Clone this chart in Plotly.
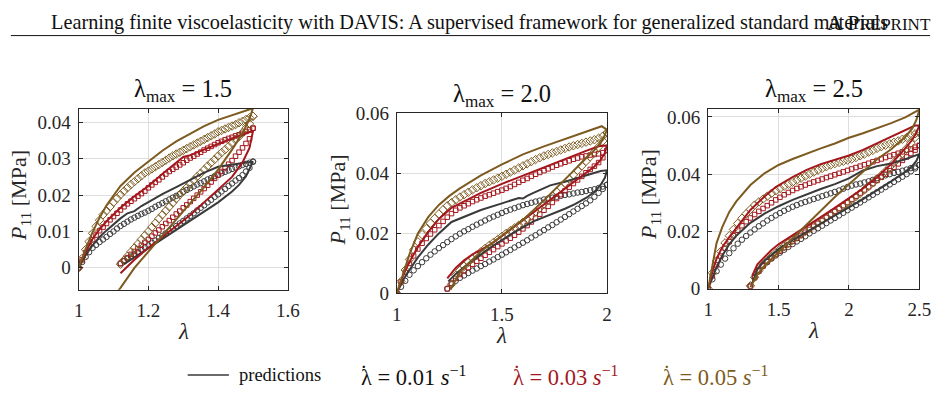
import plotly.graph_objects as go

# ---------------- data ----------------
# Panel 1 (lambda_max = 1.5) -- measured data (markers)
L1_UP = [1.00,1.01,1.02,1.03,1.04,1.05,1.06,1.07,1.08,1.09,1.10,1.11,1.12,1.13,1.14,1.15,1.16,1.17,1.18,1.19,
         1.20,1.21,1.22,1.23,1.24,1.25,1.26,1.27,1.28,1.29,1.30,1.31,1.32,1.33,1.34,1.35,1.36,1.37,1.38,1.39,
         1.40,1.41,1.42,1.43,1.44,1.45,1.46,1.47,1.48,1.49,1.50]
L1_DN = [1.50,1.49,1.48,1.47,1.46,1.45,1.44,1.43,1.42,1.41,1.40,1.39,1.38,1.37,1.36,1.35,1.34,1.33,1.32,1.31,
         1.30,1.29,1.28,1.27,1.26,1.25,1.24,1.23,1.22,1.21,1.20,1.19,1.18,1.17,1.16,1.15,1.14,1.13,1.12]
P1_R1_UP = [0,0.0016,0.0030,0.0043,0.0055,0.0063,0.0071,0.0078,0.0085,0.0093,0.0100,0.0108,0.0115,0.0121,0.0127,
            0.0133,0.0138,0.0143,0.0148,0.0152,0.0157,0.0162,0.0168,0.0173,0.0178,0.0183,0.0188,0.0193,0.0198,
            0.0203,0.0209,0.0214,0.0219,0.0224,0.0229,0.0233,0.0238,0.0243,0.0247,0.0252,0.0256,0.0260,0.0264,
            0.0268,0.0272,0.0276,0.0279,0.0283,0.0286,0.0289,0.0292]
P1_R1_DN = [0.0292,0.0275,0.0265,0.0255,0.0247,0.0240,0.0232,0.0225,0.0217,0.0210,0.0202,0.0195,0.0187,0.0180,
            0.0172,0.0165,0.0158,0.0150,0.0143,0.0136,0.0129,0.0122,0.0115,0.0108,0.0101,0.0095,0.0088,0.0082,
            0.0075,0.0069,0.0062,0.0056,0.0050,0.0043,0.0037,0.0031,0.0025,0.0018,0.0012]
P1_R2_UP = [0,0.0022,0.0042,0.0060,0.0077,0.0090,0.0102,0.0112,0.0122,0.0132,0.0141,0.0150,0.0159,0.0168,0.0176,
            0.0183,0.0190,0.0197,0.0204,0.0211,0.0220,0.0228,0.0235,0.0242,0.0250,0.0258,0.0265,0.0271,0.0277,
            0.0283,0.0289,0.0296,0.0302,0.0307,0.0313,0.0318,0.0324,0.0329,0.0334,0.0339,0.0344,0.0348,0.0352,
            0.0356,0.0359,0.0363,0.0366,0.0370,0.0375,0.0380,0.0384]
P1_R2_DN = [0.0384,0.0355,0.0342,0.0330,0.0318,0.0307,0.0295,0.0285,0.0275,0.0265,0.0255,0.0246,0.0236,0.0227,
            0.0218,0.0209,0.0200,0.0191,0.0182,0.0173,0.0165,0.0156,0.0148,0.0139,0.0130,0.0122,0.0113,0.0104,
            0.0096,0.0087,0.0078,0.0070,0.0062,0.0053,0.0045,0.0037,0.0028,0.0020,0.0012]
P1_R3_UP = [0,0.0026,0.0050,0.0072,0.0095,0.0114,0.0131,0.0146,0.0157,0.0168,0.0180,0.0191,0.0201,0.0211,0.0220,
            0.0229,0.0237,0.0245,0.0253,0.0261,0.0266,0.0272,0.0278,0.0284,0.0290,0.0296,0.0302,0.0308,0.0313,
            0.0318,0.0323,0.0328,0.0333,0.0338,0.0343,0.0348,0.0353,0.0358,0.0363,0.0368,0.0374,0.0378,0.0382,
            0.0386,0.0390,0.0394,0.0399,0.0403,0.0408,0.0413,0.0417]
P1_R3_DN = [0.0417,0.0396,0.0384,0.0372,0.0361,0.0352,0.0343,0.0334,0.0325,0.0317,0.0308,0.0298,0.0289,0.0280,
            0.0270,0.0260,0.0251,0.0241,0.0231,0.0221,0.0211,0.0201,0.0190,0.0179,0.0168,0.0157,0.0146,0.0135,
            0.0123,0.0112,0.0100,0.0089,0.0078,0.0066,0.0055,0.0044,0.0032,0.0021,0.0010]

# Panel 1 -- model predictions (lines)
Q1_R1_UP_L = [1.0,1.02,1.04,1.06,1.08,1.10,1.12,1.14,1.16,1.18,1.20,1.24,1.28,1.32,1.36,1.40,1.44,1.48,1.50]
Q1_R1_UP_P = [0,0.0035,0.0062,0.0085,0.0103,0.0120,0.0136,0.0150,0.0156,0.0170,0.0181,0.0203,0.0222,0.0243,
              0.0262,0.0278,0.0285,0.0290,0.0292]
Q1_R1_DN_L = [1.50,1.49,1.48,1.46,1.44,1.40,1.36,1.32,1.28,1.24,1.20,1.16,1.13]
Q1_R1_DN_P = [0.0292,0.0270,0.0252,0.0228,0.0210,0.0180,0.0155,0.0130,0.0105,0.0080,0.0055,0.0030,0.0010]
Q1_R2_UP_L = [1.0,1.02,1.04,1.06,1.08,1.10,1.12,1.16,1.20,1.24,1.28,1.30,1.32,1.36,1.40,1.44,1.48,1.50]
Q1_R2_UP_P = [0,0.0045,0.0080,0.0106,0.0128,0.0147,0.0165,0.0197,0.0225,0.0258,0.0290,0.0305,0.0310,0.0326,
              0.0342,0.0356,0.0370,0.0376]
Q1_R2_DN_L = [1.50,1.49,1.47,1.44,1.40,1.36,1.32,1.28,1.24,1.20,1.16,1.12]
Q1_R2_DN_P = [0.0376,0.0330,0.0290,0.0250,0.0215,0.0178,0.0145,0.0115,0.0085,0.0055,0.0022,-0.0015]
Q1_R3_UP_L = [1.0,1.02,1.04,1.06,1.08,1.10,1.12,1.16,1.20,1.24,1.28,1.32,1.36,1.40,1.44,1.48,1.50]
Q1_R3_UP_P = [0,0.0052,0.0098,0.0138,0.0172,0.0200,0.0225,0.0262,0.0292,0.0322,0.0348,0.0370,0.0390,0.0407,
              0.0420,0.0432,0.0439]
Q1_R3_DN_L = [1.50,1.49,1.47,1.44,1.40,1.36,1.32,1.28,1.24,1.20,1.16,1.12,1.10]
Q1_R3_DN_P = [0.0439,0.0410,0.0370,0.0325,0.0270,0.0222,0.0177,0.0133,0.0090,0.0045,0.0000,-0.0055,-0.0080]

# Panel 2 (lambda_max = 2.0) -- measured data
L2_UP = [1.00,1.02,1.04,1.06,1.08,1.10,1.12,1.14,1.16,1.18,1.20,1.22,1.24,1.26,1.28,1.30,1.32,1.34,1.36,1.38,
         1.40,1.42,1.44,1.46,1.48,1.50,1.52,1.54,1.56,1.58,1.60,1.62,1.64,1.66,1.68,1.70,1.72,1.74,1.76,1.78,
         1.80,1.82,1.84,1.86,1.88,1.90,1.92,1.94,1.96,1.98,2.00]
L2_DN = [2.00,1.98,1.96,1.94,1.92,1.90,1.88,1.86,1.84,1.82,1.80,1.78,1.76,1.74,1.72,1.70,1.68,1.66,1.64,1.62,
         1.60,1.58,1.56,1.54,1.52,1.50,1.48,1.46,1.44,1.42,1.40,1.38,1.36,1.34,1.32,1.30,1.28,1.26,1.24]
P2_R1_UP = [0,0.0022,0.0042,0.0062,0.0077,0.0091,0.0104,0.0117,0.0129,0.0140,0.0151,0.0161,0.0171,0.0181,0.0190,
            0.0199,0.0207,0.0214,0.0222,0.0229,0.0236,0.0243,0.0250,0.0256,0.0262,0.0268,0.0274,0.0279,0.0284,
            0.0289,0.0294,0.0298,0.0302,0.0306,0.0309,0.0313,0.0316,0.0319,0.0322,0.0325,0.0328,0.0330,0.0333,
            0.0336,0.0338,0.0341,0.0344,0.0347,0.0351,0.0356,0.0362]
P2_R1_DN = [0.0362,0.0348,0.0335,0.0322,0.0310,0.0300,0.0291,0.0282,0.0273,0.0264,0.0255,0.0246,0.0237,0.0228,
            0.0220,0.0211,0.0203,0.0194,0.0186,0.0177,0.0169,0.0161,0.0153,0.0145,0.0137,0.0129,0.0121,0.0113,
            0.0106,0.0098,0.0091,0.0083,0.0076,0.0068,0.0060,0.0052,0.0042,0.0030,0.0016]
P2_R2_UP = [0,0.0038,0.0070,0.0100,0.0125,0.0148,0.0167,0.0183,0.0198,0.0212,0.0226,0.0240,0.0254,0.0266,0.0277,
            0.0285,0.0292,0.0299,0.0306,0.0312,0.0318,0.0324,0.0329,0.0334,0.0339,0.0344,0.0350,0.0356,0.0363,
            0.0370,0.0377,0.0383,0.0390,0.0397,0.0403,0.0409,0.0415,0.0421,0.0427,0.0432,0.0437,0.0442,0.0447,
            0.0451,0.0455,0.0458,0.0461,0.0463,0.0465,0.0469,0.0476]
P2_R2_DN = [0.0476,0.0452,0.0436,0.0424,0.0413,0.0402,0.0390,0.0378,0.0366,0.0354,0.0342,0.0329,0.0316,0.0303,
            0.0290,0.0277,0.0264,0.0251,0.0238,0.0226,0.0215,0.0204,0.0194,0.0184,0.0175,0.0165,0.0156,0.0146,
            0.0137,0.0127,0.0117,0.0107,0.0097,0.0086,0.0075,0.0063,0.0050,0.0034,0.0015]
P2_R3_UP = [0,0.0040,0.0078,0.0113,0.0145,0.0172,0.0196,0.0216,0.0234,0.0250,0.0265,0.0279,0.0292,0.0302,0.0312,
            0.0321,0.0329,0.0337,0.0345,0.0352,0.0359,0.0366,0.0372,0.0378,0.0384,0.0390,0.0397,0.0404,0.0411,
            0.0418,0.0425,0.0432,0.0439,0.0446,0.0452,0.0458,0.0463,0.0468,0.0473,0.0478,0.0483,0.0488,0.0492,
            0.0496,0.0500,0.0504,0.0508,0.0512,0.0517,0.0524,0.0535]
P2_R3_DN = [0.0535,0.0508,0.0488,0.0471,0.0455,0.0440,0.0425,0.0410,0.0395,0.0381,0.0367,0.0353,0.0339,0.0325,
            0.0311,0.0298,0.0285,0.0272,0.0259,0.0247,0.0237,0.0227,0.0218,0.0209,0.0200,0.0190,0.0180,0.0170,
            0.0160,0.0150,0.0139,0.0128,0.0116,0.0104,0.0091,0.0077,0.0060,0.0030]

# Panel 2 -- model predictions
Q2_R1_UP_L = [1.0,1.03,1.06,1.10,1.15,1.20,1.26,1.30,1.40,1.50,1.55,1.58,1.60,1.62,1.65,1.73,1.80,1.90,1.97,2.0]
Q2_R1_UP_P = [0,0.0045,0.0078,0.0120,0.0163,0.0200,0.0238,0.0250,0.0278,0.0300,0.0310,0.0318,0.0316,0.0325,
              0.0335,0.0360,0.0372,0.0392,0.0408,0.0410]
Q2_R1_DN_L = [2.0,1.99,1.97,1.94,1.90,1.85,1.80,1.73,1.65,1.55,1.45,1.35,1.28,1.245]
Q2_R1_DN_P = [0.0410,0.0385,0.0362,0.0338,0.0318,0.0298,0.0282,0.0262,0.0240,0.0200,0.0155,0.0105,0.0065,0.0040]
Q2_R2_UP_L = [1.0,1.03,1.06,1.10,1.15,1.20,1.26,1.30,1.40,1.50,1.60,1.70,1.80,1.90,1.96,2.0]
Q2_R2_UP_P = [0,0.0060,0.0105,0.0155,0.0205,0.0248,0.0285,0.0300,0.0335,0.0365,0.0393,0.0420,0.0448,0.0475,
              0.0490,0.0493]
Q2_R2_DN_L = [2.0,1.99,1.97,1.94,1.90,1.85,1.80,1.70,1.60,1.50,1.45,1.40,1.36,1.32,1.28,1.24]
Q2_R2_DN_P = [0.0493,0.0468,0.0445,0.0423,0.0402,0.0376,0.0350,0.0298,0.0245,0.0192,0.0165,0.0145,0.0130,
              0.0110,0.0085,0.0050]
Q2_R3_UP_L = [1.0,1.03,1.06,1.10,1.15,1.20,1.25,1.30,1.40,1.50,1.60,1.70,1.80,1.90,1.975,2.0]
Q2_R3_UP_P = [0,0.0065,0.0130,0.0200,0.0255,0.0295,0.0325,0.0350,0.0393,0.0430,0.0463,0.0490,0.0515,0.0538,
              0.0557,0.0545]
Q2_R3_DN_L = [2.0,1.98,1.95,1.90,1.80,1.70,1.60,1.50,1.40,1.30,1.255]
Q2_R3_DN_P = [0.0545,0.0512,0.0485,0.0450,0.0380,0.0310,0.0245,0.0192,0.0140,0.0072,0.0012]

# Panel 3 (lambda_max = 2.5) -- measured data
L3_UP = [1.00,1.03,1.06,1.09,1.12,1.15,1.18,1.21,1.24,1.27,1.30,1.33,1.36,1.39,1.42,1.45,1.48,1.51,1.54,1.57,
         1.60,1.63,1.66,1.69,1.72,1.75,1.78,1.81,1.84,1.87,1.90,1.93,1.96,1.99,2.02,2.05,2.08,2.11,2.14,2.17,
         2.20,2.23,2.26,2.29,2.32,2.35,2.38,2.41,2.44,2.47,2.50]
L3_DN = [2.50,2.47,2.44,2.41,2.38,2.35,2.32,2.29,2.26,2.23,2.20,2.17,2.14,2.11,2.08,2.05,2.02,1.99,1.96,1.93,
         1.90,1.87,1.84,1.81,1.78,1.75,1.72,1.69,1.66,1.63,1.60,1.57,1.54,1.51,1.48,1.45,1.42,1.39,1.36,1.33,1.30]
P3_R1_UP = [0,0.0033,0.0061,0.0084,0.0105,0.0124,0.0141,0.0157,0.0171,0.0184,0.0196,0.0207,0.0218,0.0228,0.0238,
            0.0247,0.0256,0.0264,0.0272,0.0279,0.0286,0.0292,0.0298,0.0303,0.0308,0.0313,0.0318,0.0323,0.0328,
            0.0333,0.0338,0.0343,0.0349,0.0355,0.0360,0.0364,0.0367,0.0371,0.0375,0.0380,0.0386,0.0391,0.0396,
            0.0400,0.0404,0.0408,0.0412,0.0416,0.0421,0.0426,0.0432]
P3_R1_DN = [0.0432,0.0420,0.0410,0.0400,0.0391,0.0382,0.0373,0.0364,0.0355,0.0346,0.0337,0.0328,0.0319,0.0310,
            0.0301,0.0292,0.0283,0.0274,0.0265,0.0256,0.0247,0.0238,0.0229,0.0220,0.0211,0.0202,0.0193,0.0183,
            0.0174,0.0165,0.0156,0.0146,0.0136,0.0126,0.0116,0.0105,0.0093,0.0080,0.0063,0.0040,0.0010]
P3_R2_UP = [0,0.0045,0.0083,0.0114,0.0141,0.0164,0.0185,0.0204,0.0220,0.0234,0.0247,0.0259,0.0270,0.0280,0.0290,
            0.0300,0.0310,0.0319,0.0328,0.0336,0.0343,0.0350,0.0356,0.0362,0.0368,0.0373,0.0378,0.0383,0.0388,
            0.0393,0.0398,0.0403,0.0408,0.0413,0.0418,0.0423,0.0428,0.0433,0.0438,0.0443,0.0448,0.0453,0.0458,
            0.0463,0.0468,0.0473,0.0478,0.0483,0.0488,0.0494,0.0500]
P3_R2_DN = [0.0500,0.0484,0.0472,0.0460,0.0448,0.0436,0.0424,0.0412,0.0400,0.0389,0.0378,0.0367,0.0356,0.0345,
            0.0334,0.0323,0.0312,0.0301,0.0290,0.0280,0.0270,0.0259,0.0249,0.0238,0.0228,0.0218,0.0207,0.0197,
            0.0186,0.0176,0.0165,0.0154,0.0143,0.0131,0.0119,0.0107,0.0094,0.0079,0.0061,0.0038,0.0008]
P3_R3_UP = [0,0.0055,0.0097,0.0130,0.0160,0.0185,0.0207,0.0228,0.0246,0.0262,0.0277,0.0292,0.0303,0.0313,0.0323,
            0.0333,0.0342,0.0350,0.0358,0.0365,0.0372,0.0379,0.0386,0.0393,0.0400,0.0407,0.0414,0.0420,0.0426,
            0.0432,0.0437,0.0441,0.0445,0.0449,0.0453,0.0458,0.0464,0.0470,0.0477,0.0483,0.0490,0.0496,0.0501,
            0.0506,0.0511,0.0516,0.0522,0.0528,0.0535,0.0541,0.0548]
P3_R3_DN = [0.0548,0.0528,0.0508,0.0490,0.0472,0.0456,0.0440,0.0425,0.0410,0.0396,0.0383,0.0370,0.0357,0.0345,
            0.0333,0.0322,0.0311,0.0300,0.0290,0.0280,0.0270,0.0260,0.0250,0.0240,0.0230,0.0220,0.0210,0.0200,
            0.0190,0.0180,0.0170,0.0159,0.0148,0.0137,0.0125,0.0112,0.0098,0.0082,0.0063,0.0040,0.0010]

# Panel 3 -- model predictions
Q3_R1_UP_L = [1.0,1.03,1.06,1.10,1.15,1.20,1.30,1.40,1.50,1.60,1.70,1.80,1.90,2.00,2.10,2.20,2.30,2.40,2.50]
Q3_R1_UP_P = [0,0.0040,0.0075,0.0115,0.0155,0.0185,0.0230,0.0262,0.0288,0.0310,0.0330,0.0348,0.0365,0.0385,
              0.0413,0.0428,0.0437,0.0452,0.0470]
Q3_R1_DN_L = [2.5,2.48,2.45,2.4,2.3,2.2,2.1,2.0,1.9,1.8,1.7,1.6,1.5,1.4,1.35,1.31]
Q3_R1_DN_P = [0.0470,0.0447,0.0428,0.0408,0.0375,0.0343,0.0313,0.0284,0.0256,0.0228,0.0200,0.0170,0.0138,
              0.0098,0.0068,0.0015]
Q3_R2_UP_L = [1.0,1.03,1.06,1.10,1.15,1.20,1.30,1.40,1.48,1.60,1.70,1.80,1.90,2.00,2.10,2.20,2.30,2.40,2.47,2.50]
Q3_R2_UP_P = [0,0.0060,0.0105,0.0145,0.0180,0.0213,0.0275,0.0322,0.0355,0.0390,0.0415,0.0435,0.0450,0.0465,
              0.0485,0.0508,0.0530,0.0555,0.0570,0.0570]
Q3_R2_DN_L = [2.5,2.48,2.45,2.4,2.3,2.2,2.1,2.0,1.9,1.8,1.7,1.6,1.5,1.45,1.4,1.37,1.35,1.314]
Q3_R2_DN_P = [0.0570,0.0545,0.0520,0.0490,0.0435,0.0390,0.0350,0.0315,0.0282,0.0250,0.0218,0.0186,0.0155,
              0.0135,0.0108,0.0095,0.0085,0.0046]
Q3_R3_UP_L = [1.0,1.03,1.06,1.10,1.15,1.20,1.25,1.30,1.40,1.50,1.60,1.70,1.80,1.90,2.0,2.1,2.2,2.3,2.4,2.5]
Q3_R3_UP_P = [0,0.0085,0.0160,0.0215,0.0268,0.0305,0.0335,0.0362,0.0403,0.0432,0.0453,0.0472,0.0490,0.0507,
              0.0527,0.0543,0.0560,0.0578,0.0598,0.0625]
Q3_R3_DN_L = [2.5,2.48,2.45,2.4,2.3,2.2,2.1,2.0,1.9,1.8,1.7,1.6,1.5,1.4,1.35,1.3]
Q3_R3_DN_P = [0.0625,0.0590,0.0560,0.0530,0.0487,0.0452,0.0410,0.0365,0.0320,0.0272,0.0225,0.0178,0.0130,
              0.0080,0.0050,0.0005]

PANEL_TITLES = ["1.5", "2.0", "2.5"]
X_RANGES = [[1, 1.6], [1, 2], [1, 2.5]]
Y_RANGES = [[-0.006, 0.0438], [0, 0.06], [0, 0.0629]]
X_TICKS = [[1, 1.2, 1.4, 1.6], [1, 1.5, 2], [1, 1.5, 2, 2.5]]
X_TICKTEXT = [["1", "1.2", "1.4", "1.6"], ["1", "1.5", "2"], ["1", "1.5", "2", "2.5"]]
Y_TICKS = [[0, 0.01, 0.02, 0.03, 0.04], [0, 0.02, 0.04, 0.06], [0, 0.02, 0.04, 0.06]]
Y_TICKTEXT = [["0", "0.01", "0.02", "0.03", "0.04"], ["0", "0.02", "0.04", "0.06"], ["0", "0.02", "0.04", "0.06"]]
RATE_LABELS = ["0.01", "0.03", "0.05"]

# ---------------- style ----------------
W, H = 948, 403
COLORS = ["#3a3a3a", "#a3171d", "#7d5b20"]
SYMBOLS = ["circle-open", "square-open", "diamond-open"]
MSIZES = [5.5, 4.5, 6.5]
FONT = "Liberation Serif, Times New Roman, serif"
AXC = "#262626"

# panel plot-area boxes in pixels (left, right, top, bottom)
BOXES = [(75, 288, 104, 295), (399, 613, 109, 299), (716, 931, 104, 294)]


def px(x):
    return x / W


def py(y):
    return 1 - y / H


data_sets = [
    [(L1_UP, P1_R1_UP, L1_DN, P1_R1_DN), (L1_UP, P1_R2_UP, L1_DN, P1_R2_DN), (L1_UP, P1_R3_UP, L1_DN, P1_R3_DN)],
    [(L2_UP, P2_R1_UP, L2_DN, P2_R1_DN), (L2_UP, P2_R2_UP, L2_DN, P2_R2_DN), (L2_UP, P2_R3_UP, L2_DN, P2_R3_DN)],
    [(L3_UP, P3_R1_UP, L3_DN, P3_R1_DN), (L3_UP, P3_R2_UP, L3_DN, P3_R2_DN), (L3_UP, P3_R3_UP, L3_DN, P3_R3_DN)],
]
pred_sets = [
    [(Q1_R1_UP_L, Q1_R1_UP_P, Q1_R1_DN_L, Q1_R1_DN_P), (Q1_R2_UP_L, Q1_R2_UP_P, Q1_R2_DN_L, Q1_R2_DN_P),
     (Q1_R3_UP_L, Q1_R3_UP_P, Q1_R3_DN_L, Q1_R3_DN_P)],
    [(Q2_R1_UP_L, Q2_R1_UP_P, Q2_R1_DN_L, Q2_R1_DN_P), (Q2_R2_UP_L, Q2_R2_UP_P, Q2_R2_DN_L, Q2_R2_DN_P),
     (Q2_R3_UP_L, Q2_R3_UP_P, Q2_R3_DN_L, Q2_R3_DN_P)],
    [(Q3_R1_UP_L, Q3_R1_UP_P, Q3_R1_DN_L, Q3_R1_DN_P), (Q3_R2_UP_L, Q3_R2_UP_P, Q3_R2_DN_L, Q3_R2_DN_P),
     (Q3_R3_UP_L, Q3_R3_UP_P, Q3_R3_DN_L, Q3_R3_DN_P)],
]

fig = go.Figure()

for p in range(3):
    sfx = "" if p == 0 else str(p + 1)
    xa, ya = "x" + sfx, "y" + sfx
    # measured data (markers)
    for r in range(3):
        lu, pu, ld, pd = data_sets[p][r]
        xs = list(lu[:len(pu)]) + list(ld[:len(pd)])
        ys = list(pu) + list(pd)
        fig.add_trace(go.Scatter(
            x=xs, y=ys, mode="markers", xaxis=xa, yaxis=ya, showlegend=False,
            marker=dict(symbol=SYMBOLS[r], size=MSIZES[r], color=COLORS[r],
                        line=dict(width=1, color=COLORS[r])),
            hoverinfo="skip"))
    # predictions (lines)
    for r in range(3):
        lu, pu, ld, pd = pred_sets[p][r]
        xs = list(lu) + list(ld)
        ys = list(pu) + list(pd)
        fig.add_trace(go.Scatter(
            x=xs, y=ys, mode="lines", xaxis=xa, yaxis=ya, showlegend=False,
            line=dict(color=COLORS[r], width=2), hoverinfo="skip"))

layout = dict(
    width=W, height=H, autosize=False, margin=dict(l=0, r=0, t=0, b=0),
    paper_bgcolor="white", plot_bgcolor="white", showlegend=False,
    font=dict(family=FONT, color=AXC),
)

annotations = []
shapes = []
for p in range(3):
    sfx = "" if p == 0 else str(p + 1)
    l, r_, t, b = BOXES[p]
    layout["xaxis" + sfx] = dict(
        domain=[px(l), px(r_)], range=X_RANGES[p], anchor="y" + sfx,
        tickvals=X_TICKS[p], ticktext=X_TICKTEXT[p],
        showgrid=True, gridcolor="#dedede", gridwidth=1, zeroline=False,
        showline=True, mirror="ticks", linecolor=AXC, linewidth=1,
        ticks="inside", ticklen=4, tickcolor=AXC, ticklabelstandoff=4,
        tickfont=dict(family=FONT, size=19, color=AXC), fixedrange=True)
    layout["yaxis" + sfx] = dict(
        domain=[py(b), py(t)], range=Y_RANGES[p], anchor="x" + sfx,
        tickvals=Y_TICKS[p], ticktext=Y_TICKTEXT[p],
        showgrid=True, gridcolor="#dedede", gridwidth=1, zeroline=False,
        showline=True, mirror="ticks", linecolor=AXC, linewidth=1,
        ticks="inside", ticklen=4, tickcolor=AXC, ticklabelstandoff=3,
        tickfont=dict(family=FONT, size=19, color=AXC), fixedrange=True)
    cx = (l + r_) / 2
    # panel title
    annotations.append(dict(
        text="λ<sub>max</sub> = " + PANEL_TITLES[p], x=px(cx), y=py(t - 19),
        xref="paper", yref="paper", xanchor="center", yanchor="middle",
        showarrow=False, font=dict(family=FONT, size=24.5, color="#111111")))
    # x axis title
    annotations.append(dict(
        text="<i>λ</i>", x=px(cx), y=py(b + 44), xref="paper", yref="paper",
        xanchor="center", yanchor="middle", showarrow=False,
        font=dict(family=FONT, size=23, color=AXC)))
    # y axis title
    annotations.append(dict(
        text="<i>P</i><sub>11</sub> [MPa]", x=px(l - 59), y=py((t + b) / 2 - 4),
        xref="paper", yref="paper", xanchor="center", yanchor="middle",
        textangle=-90, showarrow=False, font=dict(family=FONT, size=22, color=AXC)))

# header
annotations.append(dict(
    text="Learning finite viscoelasticity with DAVIS: A supervised framework for generalized standard materials",
    x=px(45), y=py(13), xref="paper", yref="paper", xanchor="left", yanchor="middle",
    showarrow=False, font=dict(family=FONT, size=20.3, color="#111111")))
annotations.append(dict(
    text="A P<span style='font-size:17px'>REPRINT</span>",
    x=px(945), y=py(13), xref="paper", yref="paper", xanchor="right", yanchor="middle",
    showarrow=False, font=dict(family=FONT, size=22, color="#111111")))
shapes.append(dict(type="line", xref="paper", yref="paper", x0=px(6), x1=px(942),
                   y0=py(27), y1=py(27), line=dict(color="#111111", width=1)))

# legend (drawn as text)
shapes.append(dict(type="line", xref="paper", yref="paper", x0=px(186), x1=px(228),
                   y0=py(385), y1=py(385), line=dict(color="#3a3a3a", width=1.5)))
annotations.append(dict(
    text="predictions", x=px(236), y=py(385), xref="paper", yref="paper",
    xanchor="left", yanchor="middle", showarrow=False,
    font=dict(family=FONT, size=18.5, color="#111111")))
LEG_X = [360, 515, 668]
for r in range(3):
    col = COLORS[r] if r else "#111111"
    annotations.append(dict(
        text="λ = " + RATE_LABELS[r] + " <i>s</i><sup>−1</sup>", x=px(LEG_X[r]), y=py(386),
        xref="paper", yref="paper", xanchor="left", yanchor="middle", showarrow=False,
        font=dict(family=FONT, size=22.5, color=col)))
    annotations.append(dict(
        text="˙", x=px(LEG_X[r] + 6), y=py(383), xref="paper", yref="paper",
        xanchor="center", yanchor="middle", showarrow=False,
        font=dict(family=FONT, size=22.5, color=col)))

layout["annotations"] = annotations
layout["shapes"] = shapes
fig.update_layout(**layout)

fig.write_html("out.html", config={"displayModeBar": False})
